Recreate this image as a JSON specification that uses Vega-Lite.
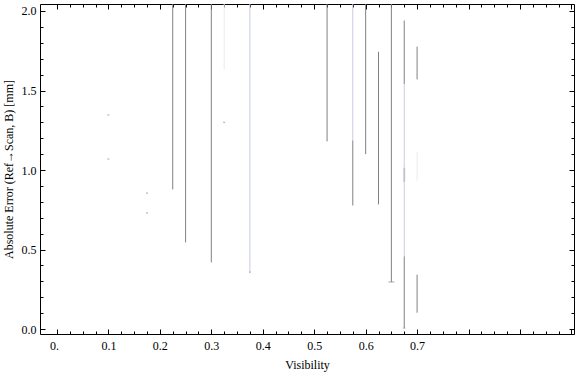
{
  "$schema": "https://vega.github.io/schema/vega-lite/v6.json",
  "width": 534,
  "height": 330,
  "autosize": "none",
  "padding": {"left": 40, "top": 4, "right": 2, "bottom": 41},
  "config": {
    "view": {"stroke": "#000", "strokeWidth": 1},
    "axis": {
      "domain": false,
      "grid": false,
      "labelFont": "Liberation Serif",
      "titleFont": "Liberation Serif",
      "labelFontSize": 12,
      "titleFontSize": 12,
      "labelColor": "#000",
      "titleColor": "#000",
      "titleFontWeight": "normal",
      "tickColor": "#000",
      "tickWidth": 1
    }
  },
  "datasets": {
    "bars": [
      {"x": 0.225, "lo": 0.878, "hi": 2.5, "c": "gray"},
      {"x": 0.25, "lo": 0.545, "hi": 2.5, "c": "gray"},
      {"x": 0.3, "lo": 0.419, "hi": 2.5, "c": "gray"},
      {"x": 0.325, "lo": 1.63, "hi": 2.5, "c": "light"},
      {"x": 0.375, "lo": 0.358, "hi": 2.5, "c": "blue"},
      {"x": 0.525, "lo": 1.18, "hi": 2.5, "c": "gray"},
      {"x": 0.575, "lo": 1.186, "hi": 2.5, "c": "blue"},
      {"x": 0.575, "lo": 0.777, "hi": 1.186, "c": "gray"},
      {"x": 0.6, "lo": 1.1, "hi": 2.5, "c": "gray"},
      {"x": 0.625, "lo": 0.784, "hi": 1.744, "c": "gray"},
      {"x": 0.65, "lo": 0.296, "hi": 2.5, "c": "gray"},
      {"x": 0.675, "lo": 1.54, "hi": 1.94, "c": "gray"},
      {"x": 0.675, "lo": 0.457, "hi": 1.54, "c": "blue"},
      {"x": 0.675, "lo": 0.006, "hi": 0.457, "c": "gray"},
      {"x": 0.7, "lo": 1.57, "hi": 1.776, "c": "gray"},
      {"x": 0.7, "lo": 0.933, "hi": 1.115, "c": "light"},
      {"x": 0.7, "lo": 0.103, "hi": 0.342, "c": "gray"}
    ],
    "caps": [
      {"x": 0.1, "y": 1.346},
      {"x": 0.1, "y": 1.069},
      {"x": 0.175, "y": 0.855},
      {"x": 0.175, "y": 0.73},
      {"x": 0.325, "y": 1.3},
      {"x": 0.375, "y": 0.358},
      {"x": 0.675, "y": 0.006}
    ],
    "wideCaps": [
      {"x": 0.65, "y": 0.296}
    ],
    "blur": [
      {"x": 0.675, "lo": 0.926, "hi": 1.014}
    ]
  },
  "layer": [
    {
      "data": {"name": "bars"},
      "mark": {"type": "rule", "strokeWidth": 1, "clip": true},
      "encoding": {
        "x": {
          "field": "x", "type": "quantitative",
          "scale": {"domain": [-0.033, 1.005], "nice": false, "zero": false},
          "axis": {
            "orient": "bottom",
            "values": [0, 0.1, 0.2, 0.3, 0.4, 0.5, 0.6, 0.7, 0.8, 0.9, 1.0],
            "tickSize": -5,
            "labelPadding": 11,
            "labelOffset": {"condition": {"test": "datum.value == 0", "value": -3}, "value": 0},
            "labelExpr": "datum.value == 0 ? '0.' : (datum.value > 0.71 ? '' : format(datum.value, '.1f'))",
            "title": "Visibility",
            "titlePadding": 8
          }
        },
        "y": {
          "field": "lo", "type": "quantitative",
          "scale": {"domain": [-0.031, 2.044], "nice": false, "zero": false},
          "axis": {
            "orient": "left",
            "values": [0, 0.5, 1.0, 1.5, 2.0],
            "tickSize": -5,
            "labelPadding": 9,
            "format": ".1f",
            "title": "Absolute Error (Ref→Scan, B) [mm]",
            "titlePadding": 6
          }
        },
        "y2": {"field": "hi"},
        "color": {
          "field": "c", "type": "nominal", "legend": null,
          "scale": {"domain": ["gray", "blue", "light"], "range": ["#808080", "#c8cce8", "#ebebf0"]}
        }
      }
    },
    {
      "data": {"name": "caps"},
      "mark": {"type": "tick", "orient": "horizontal", "size": 2, "thickness": 1, "color": "#808080"},
      "encoding": {
        "x": {
          "field": "x", "type": "quantitative",
          "axis": {
            "orient": "bottom",
            "values": [0.025, 0.05, 0.075, 0.125, 0.15, 0.175, 0.225, 0.25, 0.275, 0.325, 0.35, 0.375, 0.425, 0.45, 0.475, 0.525, 0.55, 0.575, 0.625, 0.65, 0.675, 0.725, 0.75, 0.775, 0.825, 0.85, 0.875, 0.925, 0.95, 0.975],
            "tickSize": -3, "labels": false, "title": null
          }
        },
        "y": {
          "field": "y", "type": "quantitative",
          "axis": {
            "orient": "left",
            "values": [0.1, 0.2, 0.3, 0.4, 0.6, 0.7, 0.8, 0.9, 1.1, 1.2, 1.3, 1.4, 1.6, 1.7, 1.8, 1.9],
            "tickSize": -3, "labels": false, "title": null
          }
        }
      }
    },
    {
      "data": {"name": "wideCaps"},
      "mark": {"type": "tick", "orient": "horizontal", "size": 6, "thickness": 1, "color": "#808080"},
      "encoding": {
        "x": {
          "field": "x", "type": "quantitative",
          "axis": {
            "orient": "top",
            "values": [0, 0.1, 0.2, 0.3, 0.4, 0.5, 0.6, 0.7, 0.8, 0.9, 1.0],
            "tickSize": -5, "labels": false, "title": null
          }
        },
        "y": {
          "field": "y", "type": "quantitative",
          "axis": {
            "orient": "right",
            "values": [0, 0.5, 1.0, 1.5, 2.0],
            "tickSize": -5, "labels": false, "title": null
          }
        }
      }
    },
    {
      "data": {"name": "blur"},
      "mark": {"type": "rule", "strokeWidth": 2, "color": "#b4b4b4", "opacity": 0.6},
      "encoding": {
        "x": {
          "field": "x", "type": "quantitative",
          "axis": {
            "orient": "top",
            "values": [0.025, 0.05, 0.075, 0.125, 0.15, 0.175, 0.225, 0.25, 0.275, 0.325, 0.35, 0.375, 0.425, 0.45, 0.475, 0.525, 0.55, 0.575, 0.625, 0.65, 0.675, 0.725, 0.75, 0.775, 0.825, 0.85, 0.875, 0.925, 0.95, 0.975],
            "tickSize": -3, "labels": false, "title": null
          }
        },
        "y": {
          "field": "lo", "type": "quantitative",
          "axis": {
            "orient": "right",
            "values": [0.1, 0.2, 0.3, 0.4, 0.6, 0.7, 0.8, 0.9, 1.1, 1.2, 1.3, 1.4, 1.6, 1.7, 1.8, 1.9],
            "tickSize": -3, "labels": false, "title": null
          }
        },
        "y2": {"field": "hi"}
      }
    }
  ],
  "resolve": {"axis": {"x": "independent", "y": "independent"}}
}
